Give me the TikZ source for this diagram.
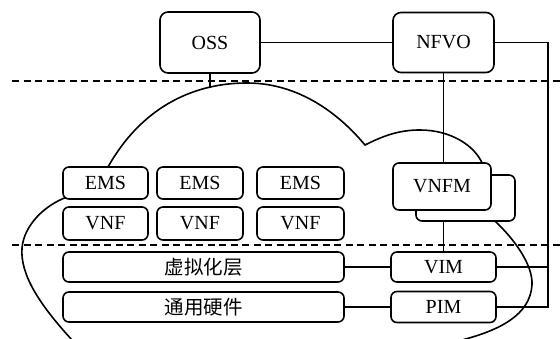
\documentclass[tikz,border=0pt]{standalone}
\usepackage{fontspec}
\setmainfont{Liberation Serif}
\newfontfamily\cjk{Noto Sans CJK SC}
\usetikzlibrary{backgrounds}
\begin{document}
\begin{tikzpicture}[x=1pt,y=-1pt,
  box/.style={draw, line width=1.6pt, rounded corners=6pt, fill=white, inner sep=0pt,
              font=\fontsize{20}{22}\selectfont},
  bigbox/.style={box, rounded corners=8pt},
  link/.style={line width=1.5pt},
  sepline/.style={line width=1.5pt, dash pattern=on 7pt off 4.5pt},
  cloudline/.style={line width=1.6pt}]
\useasboundingbox (0,0) rectangle (560,339);

% top row
\node[bigbox, minimum width=100pt, minimum height=61pt] (oss) at (210,42.5) {OSS};
\node[bigbox, minimum width=101pt, minimum height=60pt] (nfvo) at (443.5,42.5) {NFVO};

% EMS / VNF
\node[box, minimum width=85pt, minimum height=32pt] (ems1) at (105.5,183) {EMS};
\node[box, minimum width=86pt, minimum height=32pt] (ems2) at (200,183) {EMS};
\node[box, minimum width=87pt, minimum height=32pt] (ems3) at (300.5,183) {EMS};
\node[box, minimum width=85pt, minimum height=33pt] (vnf1) at (105.5,223.5) {VNF};
\node[box, minimum width=86pt, minimum height=33pt] (vnf2) at (200,223.5) {VNF};
\node[box, minimum width=87pt, minimum height=33pt] (vnf3) at (300.5,223.5) {VNF};

% layers
\node[box, minimum width=281pt, minimum height=30pt, font=\fontsize{19.5}{22}\cjk] (virt) at (203.5,267) {虚拟化层};
\node[box, minimum width=281pt, minimum height=30pt, font=\fontsize{19.5}{22}\cjk] (hw) at (203.5,307) {通用硬件};

% VNFM (stacked)
\node[box, minimum width=99pt, minimum height=46pt] (vnfmb) at (465.5,198) {};
\node[box, minimum width=98pt, minimum height=47pt] (vnfm) at (442,186.5) {VNFM};

% VIM / PIM
\node[box, minimum width=105pt, minimum height=30pt] (vim) at (443.5,267) {VIM};
\node[box, minimum width=105pt, minimum height=31pt] (pim) at (443.5,307) {PIM};

\coordinate (cloudtop) at (210,88);
\coordinate (bus) at (548,307);
\coordinate (sepAl) at (12,81);
\coordinate (sepAr) at (560,81);
\coordinate (sepBl) at (12,245);
\coordinate (sepBr) at (560,245);

\begin{scope}[on background layer]
  % cloud
  \draw[cloudline] (72,340) .. controls (40,305) and (20,275) .. (22,248)
     .. controls (24,225) and (45,205) .. (67,197) -- (108,167)
     .. controls (140,110) and (190,83) .. (247,83)
     .. controls (300,83) and (340,115) .. (365,145)
     .. controls (385,135) and (400,130) .. (420,130)
     .. controls (450,130) and (475,145) .. (483,165) -- (495,221)
     .. controls (515,240) and (533,265) .. (532,285)
     .. controls (530,315) and (500,330) .. (462,340);
  % separators
  \draw[sepline] (sepAl) -- (sepAr);
  \draw[sepline] (sepBl) -- (sepBr);
  % connectors
  \draw[link] (oss) -- (nfvo);
  \draw[link] (oss.south) -- (cloudtop);
  \draw[link] (nfvo) -- (vim);
  \draw[link] (nfvo.east) -| (bus) -- (pim.east);
  \draw[link] (vim.east) -- (vim.east -| bus);
  \draw[link] (virt) -- (vim);
  \draw[link] (hw) -- (pim);
\end{scope}
\end{tikzpicture}
\end{document}
